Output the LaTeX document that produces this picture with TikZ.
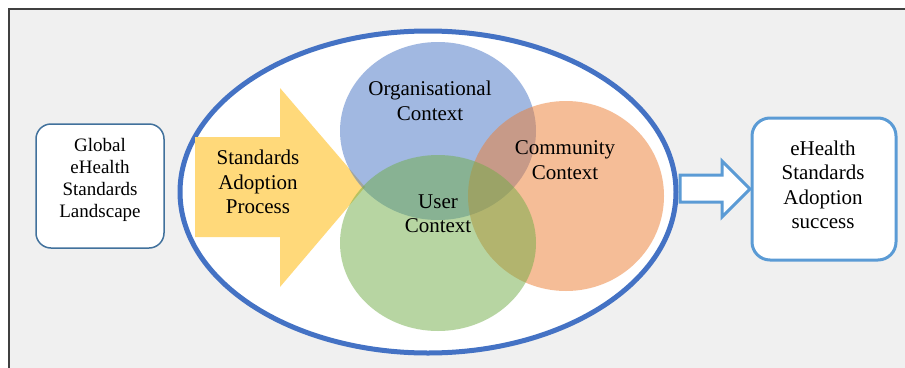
\documentclass[tikz,border=0pt]{standalone}
\usepackage{fontspec}
\setmainfont{Liberation Serif}
\definecolor{framegray}{RGB}{240,240,240}
\definecolor{ringblue}{RGB}{68,114,196}
\definecolor{boxblue}{RGB}{65,113,156}
\definecolor{lightblue}{RGB}{91,155,213}
\definecolor{procyellow}{RGB}{255,217,122}
\definecolor{orgblue}{RGB}{68,114,196}
\definecolor{commorange}{RGB}{237,125,49}
\definecolor{usergreen}{RGB}{112,173,71}
\begin{document}
\begin{tikzpicture}[x=1pt,y=-1pt]
    \useasboundingbox (0,0) rectangle (905,367);

    \tikzstyle{ctx}=[font=\fontsize{21}{24.5}\selectfont,align=center,inner sep=0pt]
    \tikzstyle{small}=[font=\fontsize{19}{22}\selectfont,align=center,inner sep=0pt]
    \tikzstyle{blob}=[fill opacity=0.5]

    % background and frame
    \fill[white] (0,0) rectangle (905,367);
    \draw[fill=framegray,draw=black!75,line width=1.5pt] (9,9) rectangle (930,390);

    % big ring
    \draw[fill=white,draw=ringblue,line width=5pt] (428,192) ellipse [x radius=248pt,y radius=161pt];

    % process arrow
    \fill[procyellow] (195,137) -- (280,137) -- (280,88) -- (365,187)
        -- (280,287) -- (280,237) -- (195,237) -- cycle;

    % the three contexts
    \fill[blob,orgblue] (438,131) ellipse [x radius=98pt,y radius=89pt];
    \fill[blob,commorange] (566,196) ellipse [x radius=98pt,y radius=95pt];
    \fill[blob,usergreen] (438,243) ellipse [x radius=98pt,y radius=88pt];

    \node[ctx] (process) at (258,182) {Standards\\Adoption\\Process};
    \node[ctx] (org) at (430,101) {Organisational\\Context};
    \node[ctx] (comm) at (565,160) {Community\\Context};
    \node[ctx] (user) at (438,213.5) {User\\Context};

    % side boxes
    \draw[fill=white,draw=boxblue,line width=1.5pt,rounded corners=15pt] (36,124) rectangle (164,248);
    \node[small] (global) at (100,180) {Global\\eHealth\\Standards\\Landscape};

    \draw[fill=white,draw=lightblue,line width=3pt,rounded corners=18pt] (752,118) rectangle (896,260);
    \node[ctx] (success) at (823,185) {eHealth\\Standards\\Adoption\\success};

    % outcome arrow
    \draw[fill=white,draw=lightblue,line width=3pt] (680,175) -- (722,175) -- (722,161) -- (750,189)
        -- (722,217) -- (722,202) -- (680,202) -- cycle;
\end{tikzpicture}
\end{document}
